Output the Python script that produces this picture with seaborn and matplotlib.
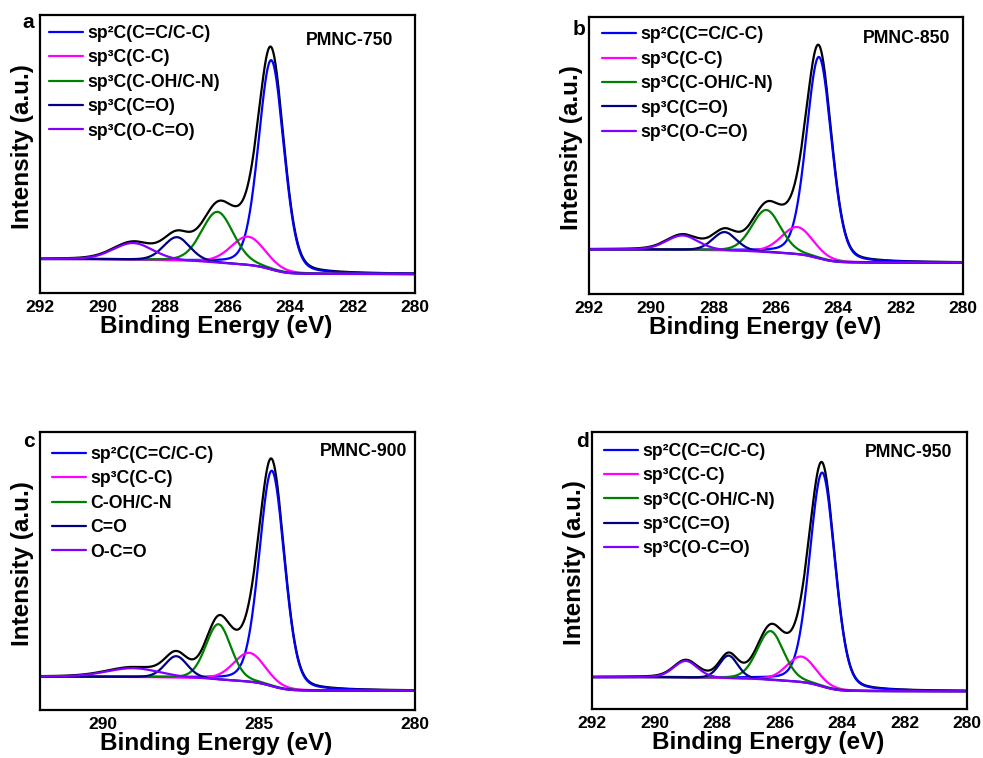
import numpy as np
import seaborn as sns
from matplotlib import pyplot as plt
from matplotlib.ticker import MultipleLocator

sns.set_style('white')
plt.rcParams['font.family'] = ['Liberation Sans', 'DejaVu Sans']
plt.rcParams['font.weight'] = 'bold'
plt.rcParams['axes.labelweight'] = 'bold'
plt.rcParams['text.color'] = 'black'
plt.rcParams['axes.labelcolor'] = 'black'
plt.rcParams['xtick.color'] = 'black'

# fitted C 1s components (sp2, sp3 C-C, C-OH/C-N, C=O, O-C=O)
# heights are above the background, y in % of the axis height
centers_750 = [284.60, 285.34, 286.32, 287.62, 289.02]
heights_750 = [75.3, 10.2, 18.3, 8.5, 6.0]
fwhm_750 = [0.95, 1.3, 1.2, 1.0, 1.5]
bg_750 = [12.2, 6.8]  # background at 292 eV and at 280 eV

centers_850 = [284.62, 285.32, 286.31, 287.65, 289.00]
heights_850 = [72.7, 9.8, 15.2, 6.7, 5.2]
fwhm_850 = [0.95, 1.2, 1.1, 0.9, 1.2]
bg_850 = [16.1, 11.3]

centers_900 = [284.58, 285.30, 286.29, 287.64, 289.02]
heights_900 = [77.5, 10.4, 19.9, 7.8, 3.2]
fwhm_900 = [0.95, 1.2, 0.95, 0.85, 2.0]
bg_900 = [12.0, 6.9]

centers_950 = [284.63, 285.30, 286.29, 287.63, 289.00]
heights_950 = [77.2, 9.2, 17.6, 8.2, 6.0]
fwhm_950 = [0.95, 1.1, 1.0, 0.7, 0.9]
bg_950 = [11.5, 6.4]

labels_sp3 = ['sp²C(C=C/C-C)', 'sp³C(C-C)', 'sp³C(C-OH/C-N)',
              'sp³C(C=O)', 'sp³C(O-C=O)']
labels_900 = ['sp²C(C=C/C-C)', 'sp³C(C-C)', 'C-OH/C-N', 'C=O', 'O-C=O']
colors = ['#0000ff', '#ff00ff', '#008000', '#000080', '#8000ff']

panels = [
    ('a', 'PMNC-750', centers_750, heights_750, fwhm_750, bg_750, labels_sp3),
    ('b', 'PMNC-850', centers_850, heights_850, fwhm_850, bg_850, labels_sp3),
    ('c', 'PMNC-900', centers_900, heights_900, fwhm_900, bg_900, labels_900),
    ('d', 'PMNC-950', centers_950, heights_950, fwhm_950, bg_950, labels_sp3),
]

# axes boxes in pixels: left, top, right, bottom
boxes = [(40, 15, 415, 293), (589, 17, 963, 294),
         (40, 432, 415, 710), (592, 432, 967, 709)]
# legend anchor (x px from left, axes-fraction y), sample name right edge/baseline
leg_pos = [(9, 0.964), (13, 0.966), (12, 0.950), (12, 0.961)]
name_pos = [(0.941, 0.892), (0.965, 0.906), (0.979, 0.914), (0.96, 0.91)]
letter_pos = [(-0.048, 0.953), (-0.045, 0.935), (-0.045, 0.946), (-0.043, 0.946)]
W, H = 983, 758

energy = np.linspace(280, 292, 1200)


def pseudo_voigt(x, c, h, w, eta=0.2):
    g = np.exp(-4 * np.log(2) * (x - c) ** 2 / w ** 2)
    l = 1 / (1 + 4 * (x - c) ** 2 / w ** 2)
    return h * (eta * l + (1 - eta) * g)


fig = plt.figure(figsize=(W / 100, H / 100), dpi=100)

for i, ((letter, name, cen, hgt, fw, bg, labels), (l, t, r, b)) in enumerate(zip(panels, boxes)):
    ax = fig.add_axes([l / W, 1 - b / H, (r - l) / W, (b - t) / H])

    comps = [pseudo_voigt(energy, c, h, w) for c, h, w in zip(cen, hgt, fw)]
    total = np.sum(comps, axis=0)
    # Shirley-like step background
    area = np.concatenate([[0], np.cumsum((total[1:] + total[:-1]) / 2 * np.diff(energy))])
    back = bg[1] + (bg[0] - bg[1]) * area / area[-1]

    sns.lineplot(x=energy, y=back + total, ax=ax, color='black', lw=1.6)
    handles = []
    for comp, col, lab in zip(comps, colors, labels):
        sns.lineplot(x=energy, y=back + comp, ax=ax, color=col, lw=1.6)
        handles.append(plt.Line2D([], [], color=col, lw=1.6, label=lab))

    ax.set_xlim(292, 280)
    ax.set_ylim(0, 100)
    if letter == 'c':
        ax.xaxis.set_major_locator(MultipleLocator(5))
        ax.xaxis.set_minor_locator(MultipleLocator(2.5))
    else:
        ax.xaxis.set_major_locator(MultipleLocator(2))
        ax.xaxis.set_minor_locator(MultipleLocator(1))
    ax.set_yticks([])
    ax.tick_params(axis='x', which='major', direction='in', length=5, width=1.5,
                   labelsize=12.5, pad=5, top=False)
    ax.tick_params(axis='x', which='minor', direction='in', length=3, width=1.5, top=False)
    for s in ax.spines.values():
        s.set_linewidth(1.6)
        s.set_color('black')

    ax.set_xlabel('Binding Energy (eV)', fontsize=17.5, labelpad=0)
    ax.set_ylabel('Intensity (a.u.)', fontsize=17.5, labelpad=4)
    ax.xaxis.label.set_x(0.471)
    ax.yaxis.label.set_y(0.528)

    lx, ly = leg_pos[i]
    ax.legend(handles=handles, loc='upper left',
              bbox_to_anchor=(lx / (r - l), ly), frameon=False,
              fontsize=12.7, borderpad=0, borderaxespad=0,
              handlelength=1.9, handletextpad=0.25, labelspacing=0.42)

    ax.text(*letter_pos[i], letter, transform=ax.transAxes, fontsize=15,
            fontweight='bold', ha='left', va='baseline')
    ax.text(*name_pos[i], name, transform=ax.transAxes, fontsize=12.7,
            fontweight='bold', ha='right', va='baseline')

fig.savefig('out.png', dpi=100)
